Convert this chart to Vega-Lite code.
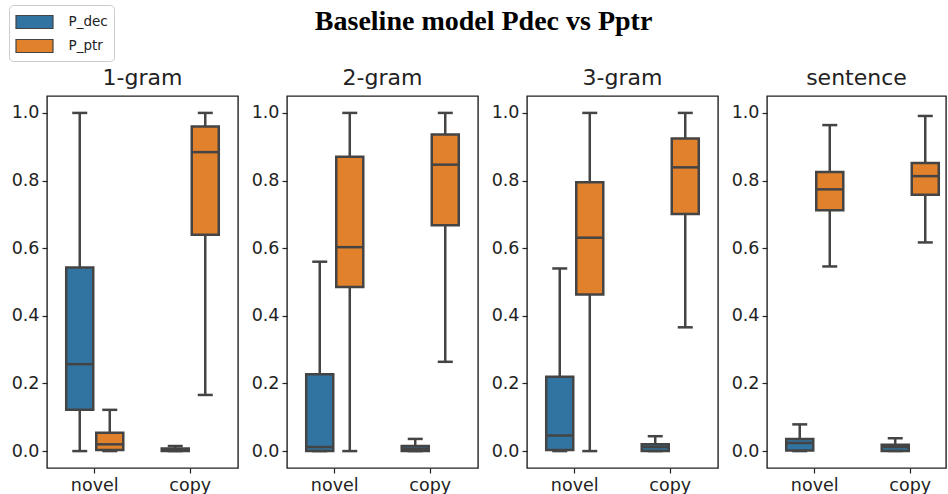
{
  "$schema": "https://vega.github.io/schema/vega-lite/v6.json",
  "padding": {"left": 8, "top": 4, "right": 0, "bottom": 0},
  "autosize": {"type": "pad"},
  "title": {"text": "Baseline model Pdec vs Pptr", "font": "Liberation Serif", "fontSize": 28, "fontWeight": "bold", "color": "#000", "anchor": "middle", "offset": -31},
  "data": {"values": [
    {"panel": "1-gram", "cat": "novel", "series": "P_dec", "lower": 0.0, "q1": 0.122, "median": 0.257, "q3": 0.543, "upper": 1.0},
    {"panel": "1-gram", "cat": "novel", "series": "P_ptr", "lower": 0.0, "q1": 0.003, "median": 0.02, "q3": 0.054, "upper": 0.122},
    {"panel": "1-gram", "cat": "copy", "series": "P_dec", "lower": 0.0, "q1": 0.0, "median": 0.002, "q3": 0.008, "upper": 0.015},
    {"panel": "1-gram", "cat": "copy", "series": "P_ptr", "lower": 0.166, "q1": 0.64, "median": 0.884, "q3": 0.96, "upper": 1.0},
    {"panel": "2-gram", "cat": "novel", "series": "P_dec", "lower": 0.0, "q1": 0.0, "median": 0.012, "q3": 0.227, "upper": 0.56},
    {"panel": "2-gram", "cat": "novel", "series": "P_ptr", "lower": 0.0, "q1": 0.485, "median": 0.603, "q3": 0.87, "upper": 1.0},
    {"panel": "2-gram", "cat": "copy", "series": "P_dec", "lower": 0.0, "q1": 0.0, "median": 0.007, "q3": 0.015, "upper": 0.036},
    {"panel": "2-gram", "cat": "copy", "series": "P_ptr", "lower": 0.264, "q1": 0.668, "median": 0.847, "q3": 0.936, "upper": 1.0},
    {"panel": "3-gram", "cat": "novel", "series": "P_dec", "lower": 0.0, "q1": 0.003, "median": 0.046, "q3": 0.22, "upper": 0.54},
    {"panel": "3-gram", "cat": "novel", "series": "P_ptr", "lower": 0.0, "q1": 0.463, "median": 0.631, "q3": 0.795, "upper": 1.0},
    {"panel": "3-gram", "cat": "copy", "series": "P_dec", "lower": 0.0, "q1": 0.0, "median": 0.012, "q3": 0.02, "upper": 0.044},
    {"panel": "3-gram", "cat": "copy", "series": "P_ptr", "lower": 0.366, "q1": 0.701, "median": 0.839, "q3": 0.924, "upper": 1.0},
    {"panel": "sentence", "cat": "novel", "series": "P_dec", "lower": 0.0, "q1": 0.002, "median": 0.024, "q3": 0.036, "upper": 0.079},
    {"panel": "sentence", "cat": "novel", "series": "P_ptr", "lower": 0.546, "q1": 0.712, "median": 0.774, "q3": 0.825, "upper": 0.964},
    {"panel": "sentence", "cat": "copy", "series": "P_dec", "lower": 0.0, "q1": 0.0, "median": 0.012, "q3": 0.019, "upper": 0.038},
    {"panel": "sentence", "cat": "copy", "series": "P_ptr", "lower": 0.617, "q1": 0.758, "median": 0.813, "q3": 0.852, "upper": 0.991}
  ]},
  "spacing": 49,
  "bounds": "flush",
  "resolve": {"scale": {"x": "independent", "xOffset": "independent", "y": "shared", "color": "shared"}},
  "hconcat": [
    {
      "width": 191, "height": 372,
      "title": "1-gram",
      "transform": [{"filter": "datum.panel === '1-gram'"}],
      "encoding": {
        "x": {"field": "cat", "type": "nominal", "sort": ["novel", "copy"], "scale": {"paddingInner": 0, "paddingOuter": 0}, "axis": {"title": null, "labelAngle": 0}},
        "xOffset": {"field": "series", "type": "nominal", "sort": ["P_dec", "P_ptr"], "scale": {"paddingInner": 0.1, "paddingOuter": 0.64}}
      },
      "layer": [
        {"mark": {"type": "rule", "color": "#444", "strokeWidth": 2.5},
         "encoding": {"y": {"field": "lower", "type": "quantitative", "title": null, "scale": {"domain": [-0.05, 1.05], "nice": false, "zero": false}, "axis": {"title": null, "values": [0, 0.2, 0.4, 0.6, 0.8, 1.0], "format": ".1f"}}, "y2": {"field": "upper", "title": null}}},
        {"mark": {"type": "bar", "stroke": "#444", "strokeWidth": 2.5},
         "encoding": {"y": {"field": "q1", "type": "quantitative", "title": null}, "y2": {"field": "q3", "title": null},
           "color": {"field": "series", "type": "nominal", "scale": {"domain": ["P_dec", "P_ptr"], "range": ["#3274a1", "#e1812c"]}, "legend": {"title": null, "orient": "none", "legendX": -38, "legendY": -91}}}},
        {"mark": {"type": "tick", "color": "#444", "thickness": 2.5, "size": 27, "opacity": 1},
         "encoding": {"y": {"field": "median", "type": "quantitative", "title": null}}},
        {"mark": {"type": "tick", "color": "#444", "thickness": 2.5, "size": 15, "opacity": 1},
         "encoding": {"y": {"field": "upper", "type": "quantitative", "title": null}}},
        {"mark": {"type": "tick", "color": "#444", "thickness": 2.5, "size": 15, "opacity": 1},
         "encoding": {"y": {"field": "lower", "type": "quantitative", "title": null}}}
      ]
    },
    {
      "width": 191, "height": 372,
      "title": "2-gram",
      "transform": [{"filter": "datum.panel === '2-gram'"}],
      "encoding": {
        "x": {"field": "cat", "type": "nominal", "sort": ["novel", "copy"], "scale": {"paddingInner": 0, "paddingOuter": 0}, "axis": {"title": null, "labelAngle": 0}},
        "xOffset": {"field": "series", "type": "nominal", "sort": ["P_dec", "P_ptr"], "scale": {"paddingInner": 0.1, "paddingOuter": 0.64}}
      },
      "layer": [
        {"mark": {"type": "rule", "color": "#444", "strokeWidth": 2.5},
         "encoding": {"y": {"field": "lower", "type": "quantitative", "title": null, "scale": {"domain": [-0.05, 1.05], "nice": false, "zero": false}, "axis": {"title": null, "values": [0, 0.2, 0.4, 0.6, 0.8, 1.0], "format": ".1f"}}, "y2": {"field": "upper", "title": null}}},
        {"mark": {"type": "bar", "stroke": "#444", "strokeWidth": 2.5},
         "encoding": {"y": {"field": "q1", "type": "quantitative", "title": null}, "y2": {"field": "q3", "title": null},
           "color": {"field": "series", "type": "nominal", "scale": {"domain": ["P_dec", "P_ptr"], "range": ["#3274a1", "#e1812c"]}, "legend": {"title": null, "orient": "none", "legendX": -38, "legendY": -91}}}},
        {"mark": {"type": "tick", "color": "#444", "thickness": 2.5, "size": 27, "opacity": 1},
         "encoding": {"y": {"field": "median", "type": "quantitative", "title": null}}},
        {"mark": {"type": "tick", "color": "#444", "thickness": 2.5, "size": 15, "opacity": 1},
         "encoding": {"y": {"field": "upper", "type": "quantitative", "title": null}}},
        {"mark": {"type": "tick", "color": "#444", "thickness": 2.5, "size": 15, "opacity": 1},
         "encoding": {"y": {"field": "lower", "type": "quantitative", "title": null}}}
      ]
    },
    {
      "width": 191, "height": 372,
      "title": "3-gram",
      "transform": [{"filter": "datum.panel === '3-gram'"}],
      "encoding": {
        "x": {"field": "cat", "type": "nominal", "sort": ["novel", "copy"], "scale": {"paddingInner": 0, "paddingOuter": 0}, "axis": {"title": null, "labelAngle": 0}},
        "xOffset": {"field": "series", "type": "nominal", "sort": ["P_dec", "P_ptr"], "scale": {"paddingInner": 0.1, "paddingOuter": 0.64}}
      },
      "layer": [
        {"mark": {"type": "rule", "color": "#444", "strokeWidth": 2.5},
         "encoding": {"y": {"field": "lower", "type": "quantitative", "title": null, "scale": {"domain": [-0.05, 1.05], "nice": false, "zero": false}, "axis": {"title": null, "values": [0, 0.2, 0.4, 0.6, 0.8, 1.0], "format": ".1f"}}, "y2": {"field": "upper", "title": null}}},
        {"mark": {"type": "bar", "stroke": "#444", "strokeWidth": 2.5},
         "encoding": {"y": {"field": "q1", "type": "quantitative", "title": null}, "y2": {"field": "q3", "title": null},
           "color": {"field": "series", "type": "nominal", "scale": {"domain": ["P_dec", "P_ptr"], "range": ["#3274a1", "#e1812c"]}, "legend": {"title": null, "orient": "none", "legendX": -38, "legendY": -91}}}},
        {"mark": {"type": "tick", "color": "#444", "thickness": 2.5, "size": 27, "opacity": 1},
         "encoding": {"y": {"field": "median", "type": "quantitative", "title": null}}},
        {"mark": {"type": "tick", "color": "#444", "thickness": 2.5, "size": 15, "opacity": 1},
         "encoding": {"y": {"field": "upper", "type": "quantitative", "title": null}}},
        {"mark": {"type": "tick", "color": "#444", "thickness": 2.5, "size": 15, "opacity": 1},
         "encoding": {"y": {"field": "lower", "type": "quantitative", "title": null}}}
      ]
    },
    {
      "width": 179, "height": 372,
      "title": "sentence",
      "transform": [{"filter": "datum.panel === 'sentence'"}],
      "encoding": {
        "x": {"field": "cat", "type": "nominal", "sort": ["novel", "copy"], "scale": {"paddingInner": 0, "paddingOuter": 0, "range": [0, 191]}, "axis": {"title": null, "labelAngle": 0}},
        "xOffset": {"field": "series", "type": "nominal", "sort": ["P_dec", "P_ptr"], "scale": {"paddingInner": 0.1, "paddingOuter": 0.64}}
      },
      "layer": [
        {"mark": {"type": "rule", "color": "#444", "strokeWidth": 2.5},
         "encoding": {"y": {"field": "lower", "type": "quantitative", "title": null, "scale": {"domain": [-0.05, 1.05], "nice": false, "zero": false}, "axis": {"title": null, "values": [0, 0.2, 0.4, 0.6, 0.8, 1.0], "format": ".1f"}}, "y2": {"field": "upper", "title": null}}},
        {"mark": {"type": "bar", "stroke": "#444", "strokeWidth": 2.5},
         "encoding": {"y": {"field": "q1", "type": "quantitative", "title": null}, "y2": {"field": "q3", "title": null},
           "color": {"field": "series", "type": "nominal", "scale": {"domain": ["P_dec", "P_ptr"], "range": ["#3274a1", "#e1812c"]}, "legend": {"title": null, "orient": "none", "legendX": -38, "legendY": -91}}}},
        {"mark": {"type": "tick", "color": "#444", "thickness": 2.5, "size": 27, "opacity": 1},
         "encoding": {"y": {"field": "median", "type": "quantitative", "title": null}}},
        {"mark": {"type": "tick", "color": "#444", "thickness": 2.5, "size": 15, "opacity": 1},
         "encoding": {"y": {"field": "upper", "type": "quantitative", "title": null}}},
        {"mark": {"type": "tick", "color": "#444", "thickness": 2.5, "size": 15, "opacity": 1},
         "encoding": {"y": {"field": "lower", "type": "quantitative", "title": null}}}
      ]
    }
  ],
  "config": {
    "font": "DejaVu Sans",
    "view": {"stroke": "#222", "strokeWidth": 1.4},
    "axis": {"domain": false, "grid": false, "tickColor": "#222", "tickSize": 5, "tickWidth": 1.2, "labelFont": "DejaVu Sans", "labelFontSize": 17.5, "labelColor": "#222", "labelPadding": 3},
    "title": {"font": "DejaVu Sans", "fontSize": 22, "fontWeight": "normal", "color": "#222", "offset": 6},
    "legend": {"strokeColor": "#cccccc", "fillColor": "#ffffff", "cornerRadius": 4, "padding": 6, "labelFont": "DejaVu Sans", "labelFontSize": 13.5, "labelColor": "#222", "symbolType": "M-1.85,-0.65H1.85V0.65H-1.85Z", "symbolSize": 400, "symbolOffset": 8.5, "symbolStrokeColor": "#444", "symbolStrokeWidth": 1.2, "symbolOpacity": 1, "rowPadding": 4, "labelOffset": 23}
  }
}
